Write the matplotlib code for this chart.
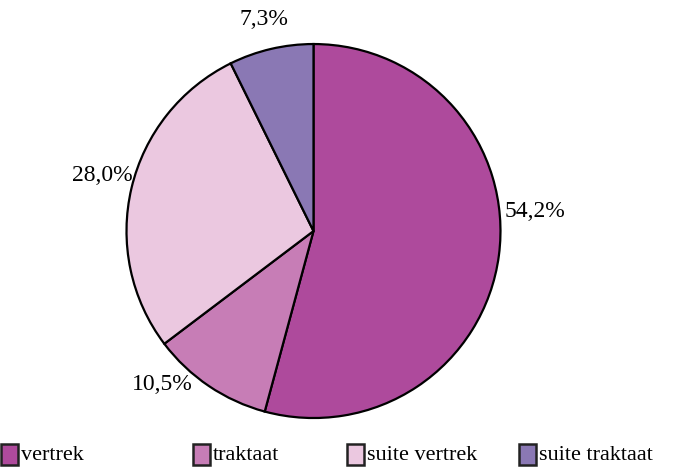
import matplotlib.pyplot as plt
from matplotlib.patches import Rectangle
import numpy as np

categories = ['vertrek', 'traktaat', 'suite vertrek', 'suite traktaat']
shares = [54.2, 10.5, 28.0, 7.3]
colors = ['#AE4A9C', '#C77DB6', '#EBC8E0', '#8A78B4']

plt.rcParams['font.family'] = ['Liberation Serif', 'DejaVu Serif']

fig = plt.figure(figsize=(6.83, 4.70), dpi=100)
ax = fig.add_axes([0.1852, 0.1106, 0.5476, 0.7957])

wedges, _ = ax.pie(shares, colors=colors, startangle=90, counterclock=False,
                   radius=1.0, wedgeprops=dict(edgecolor='black', linewidth=1.6))
ax.set_xlim(-1, 1)
ax.set_ylim(-1, 1)
ax.set_aspect('equal')
ax.axis('off')

# labels: nudge away from the wedge middle, like the original
angle_shift = [13.5, -4.0, -3.7, 0.0]
label_r = [1.03, 1.045, 1.01, 1.16]
aligns = ['left', 'right', 'right', 'center']
for w, val, da, r, ha in zip(wedges, shares, angle_shift, label_r, aligns):
    mid = np.deg2rad((w.theta1 + w.theta2) / 2 + da)
    txt = f'{val:.1f}%'.replace('.', ',')
    ax.text(r * np.cos(mid), r * np.sin(mid), txt, ha=ha, va='center', fontsize=17)

# legend along the bottom
leg_x = [0.0, 192, 346, 518]
for x, c, name in zip(leg_x, colors, categories):
    fig.patches.append(Rectangle((x / 683 + 0.002, 5 / 470), 17 / 683, 21 / 470,
                                 transform=fig.transFigure, facecolor=c,
                                 edgecolor='#222222', linewidth=1.8))
    fig.text((x + 21) / 683, 15 / 470, name, ha='left', va='center', fontsize=16)

plt.savefig('out.png', dpi=100)
plt.close(fig)
